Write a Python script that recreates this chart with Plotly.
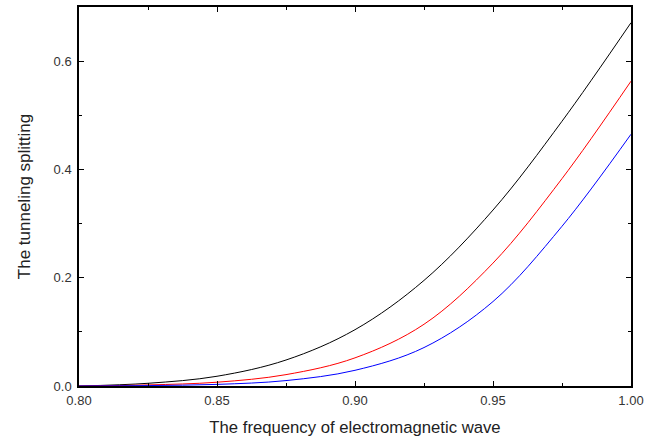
import plotly.graph_objects as go

freq = [0.800, 0.825, 0.850, 0.875, 0.900, 0.925, 0.950, 0.975, 1.000]
black_vals = [0.000, 0.005, 0.018, 0.048, 0.104, 0.195, 0.325, 0.489, 0.671]
red_vals = [0.000, 0.002, 0.007, 0.021, 0.052, 0.114, 0.227, 0.383, 0.563]
blue_vals = [0.000, 0.0008, 0.003, 0.010, 0.029, 0.071, 0.156, 0.295, 0.465]

x_ticks = [0.80, 0.85, 0.90, 0.95, 1.00]
y_ticks = [0.0, 0.2, 0.4, 0.6]

fig = go.Figure()
for vals, col in [(black_vals, "black"), (red_vals, "red"), (blue_vals, "blue")]:
    fig.add_trace(go.Scatter(x=freq, y=vals, mode="lines",
                             line=dict(color=col, width=1, shape="spline", smoothing=1.0),
                             showlegend=False, hoverinfo="skip"))

FONT = "Liberation Sans, Arial, sans-serif"
axis_common = dict(showline=True, linecolor="black", linewidth=1.5, mirror="ticks",
                   ticks="inside", ticklen=5, tickwidth=1, tickcolor="black",
                   showgrid=False, zeroline=False,
                   tickfont=dict(family=FONT, size=13, color="#333333"))

fig.update_xaxes(range=[0.8, 1.0], tickvals=x_ticks, tickformat=".2f", ticklabelstandoff=2,
                 minor=dict(ticks="inside", ticklen=3, tickcolor="black", dtick=0.025, tick0=0.8),
                 title=dict(text="The frequency of electromagnetic wave",
                            font=dict(family=FONT, size=16.7, color="#222222"),
                            standoff=14),
                 **axis_common)
fig.update_yaxes(range=[0, 0.7], tickvals=y_ticks, tickformat=".1f", ticklabelstandoff=3,
                 minor=dict(ticks="inside", ticklen=3, tickcolor="black", dtick=0.1, tick0=0),
                 title=dict(text="The tunneling splitting",
                            font=dict(family=FONT, size=17, color="#222222"),
                            standoff=19),
                 **axis_common)

fig.update_layout(width=661, height=441, margin=dict(l=79, r=30, t=7, b=55, autoexpand=False),
                  plot_bgcolor="white", paper_bgcolor="white")

fig.write_html("out.html", config={"displayModeBar": False},
               post_script="document.body.style.margin='0px';")
